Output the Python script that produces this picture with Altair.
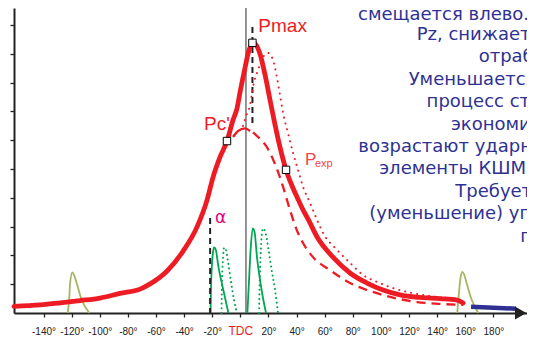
import altair as alt
import pandas as pd

# ---------------- data (crank angle, deg ; pressure in axis-tick units) ----------------
tick_deg = list(range(-140, 181, 20))
ytick_vals = list(range(1, 11))

main_deg = [-161.0, -142.4, -128.2, -114.0, -99.8, -85.6, -71.3, -64.2, -52.1, -40.7, -30.8,
            -23.7, -19.4, -14.4, -9.5, -5.2, -2.3, -0.2, 3.3, 6.2, 9.0, 11.2, 14.0, 17.6, 21.1,
            24.7, 28.2, 32.5, 36.8, 40.3, 44.6, 48.2, 54.6, 65.9, 78.0, 90.1, 101.5, 113.6,
            127.8, 142.0, 154.1, 158.4]
main_p = [0.23, 0.28, 0.35, 0.43, 0.52, 0.68, 0.83, 1.01, 1.46, 2.15, 2.99,
          3.92, 4.72, 5.42, 5.97, 6.70, 7.12, 7.67, 8.51, 9.13, 9.38, 9.31, 8.99, 8.26, 7.40,
          6.53, 5.76, 4.97, 4.41, 4.03, 3.58, 3.26, 2.64, 1.94, 1.39, 1.04, 0.80, 0.63,
          0.54, 0.50, 0.45, 0.35]

blue_deg = [164.1, 196.0]
blue_p = [0.22, 0.15]

arrow_deg = [-5.2, -1.6, 3.3, 6.9]
arrow_p = [6.11, 6.32, 6.41, 6.32]

dash_deg = [9.0, 12.6, 18.3, 22.5, 26.8, 30.4, 35.3, 39.6, 44.6, 51.7, 63.8, 78.0, 90.1,
            106.5, 125.7, 144.2, 158.4]
dash_p = [6.27, 6.11, 5.80, 5.42, 4.90, 4.38, 3.58, 2.95, 2.43, 1.94, 1.49, 1.04, 0.80,
          0.56, 0.38, 0.31, 0.28]

dot_deg = [1.9, 4.1, 6.9, 9.0, 12.6, 16.2, 19.7, 23.3, 26.1, 28.2, 30.4, 33.9, 37.5, 41.0,
           44.6, 49.6, 54.6, 58.8, 68.8, 78.0, 87.3, 97.2, 106.5, 118.6, 135.0, 154.1]
dot_p = [6.49, 6.84, 7.22, 7.85, 8.44, 8.89, 9.03, 8.78, 8.16, 7.57, 6.94, 6.25, 5.56, 4.97,
         4.38, 3.82, 3.23, 2.78, 2.19, 1.74, 1.32, 1.08, 0.90, 0.73, 0.59, 0.49]

g1_deg = [-21.2, -21.0, -20.3, -19.4, -18.7, -17.6, -15.6, -12.1, -8.5]
g1_p = [0.0, 0.6, 1.61, 2.12, 2.28, 2.22, 1.61, 0.80, 0.0]
g2_deg = [-13.4, -13.0, -12.3, -11.6, -10.2, -8.7, -6.6, -4.5, -2.4]
g2_p = [0.0, 1.15, 1.91, 2.27, 2.19, 1.77, 1.08, 0.45, 0.0]
g3_deg = [5.0, 6.2, 7.3, 8.8, 10.1, 11.9, 14.0, 16.1, 18.3]
g3_p = [0.0, 1.15, 2.19, 2.94, 2.81, 1.91, 1.15, 0.52, 0.0]
g4_deg = [13.3, 13.7, 14.4, 16.1, 18.3, 20.1, 22.3, 24.7, 26.8]
g4_p = [0.0, 0.97, 2.01, 2.94, 2.71, 2.19, 1.49, 0.80, 0.0]

olive_l_deg = [-122.8, -121.8, -121.1, -119.5, -118.3, -116.4, -112.8, -107.4]
olive_l_p = [0.0, 0.45, 1.03, 1.41, 1.32, 1.03, 0.45, 0.0]
olive_r_deg = [154.3, 155.0, 155.7, 156.6, 157.9, 159.1, 161.0, 164.6, 169.3]
olive_r_p = [0.0, 0.45, 0.80, 1.22, 1.43, 1.35, 1.03, 0.45, 0.0]

vdash1_deg = [8.6, 8.6]
vdash1_p = [9.93, 6.60]
vdash2_deg = [-21.5, -21.5]
vdash2_p = [3.30, 0.0]
tdc_deg = [4.0, 4.0]
tdc_p = [0.0, 10.6]

marker_deg = [-9.5, 8.6, 32.5]
marker_p = [5.97, 9.38, 4.97]

big_labels = ["Pmax", "Pc'"]
big_deg = [12.8, -25.8]
big_p = [9.77, 6.36]

ru_lines = ["смещается влево.", "Pz, снижается", "отработавших", "Уменьшается",
            "процесс становится", "экономичность", "возрастают ударные", "элементы КШМ.",
            "Требуется", "(уменьшение) угла", "подачи"]
ru_deg = [83.7, 125.4, 169.5, 119.7, 132.5, 149.8, 83.9, 98.8, 152.9, 91.7, 199.1]
ru_p = [10.17, 9.48, 8.72, 7.93, 7.15, 6.37, 5.59, 4.81, 4.03, 3.25, 2.47]

RED = "#ed1c24"
GREEN = "#00a651"
OLIVE = "#a6b660"
NAVY = "#2e3192"
INK = "#222222"


def frame(deg, p):
    return pd.DataFrame({"deg": deg, "p": p, "i": list(range(len(deg)))})


XS = alt.Scale(domain=[-161, 203.9], nice=False, zero=False)
YS = alt.Scale(domain=[0, 10.59], nice=False, zero=False)

x_axis = alt.Axis(
    values=tick_deg,
    labelExpr="datum.value == 0 ? 'TDC' : datum.value + '°'",
    labelColor={"condition": {"test": "datum.value == 0", "value": RED}, "value": INK},
    labelFontSize={"condition": {"test": "datum.value == 0", "value": 12}, "value": 10},
    labelFont="Liberation Sans",
    labelBaseline="alphabetic",
    labelPadding=17,
    labelOverlap=False,
    labelFlush=False,
    tickSize=4,
    tickWidth=1.3,
    tickColor=INK,
    domainColor=INK,
    domainWidth=2,
    grid=False,
)
y_axis = alt.Axis(
    values=ytick_vals,
    labels=False,
    tickSize=4,
    tickWidth=1.3,
    tickColor=INK,
    domainColor=INK,
    domainWidth=2,
    grid=False,
)


def xy():
    return dict(
        x=alt.X("deg:Q", scale=XS, axis=x_axis, title=None),
        y=alt.Y("p:Q", scale=YS, axis=y_axis, title=None),
    )


def line(deg, p, color, width, dash=None, cap="butt", interp="monotone"):
    kw = dict(color=color, strokeWidth=width, strokeCap=cap, interpolate=interp)
    if dash is not None:
        kw["strokeDash"] = dash
    return alt.Chart(frame(deg, p)).mark_line(**kw).encode(order="i:Q", **xy())


layers = [
    line(tdc_deg, tdc_p, "#666666", 1.4, interp="linear"),
    line(olive_l_deg, olive_l_p, OLIVE, 1.8),
    line(olive_r_deg, olive_r_p, OLIVE, 1.8),
    line(g1_deg, g1_p, GREEN, 1.8),
    line(g2_deg, g2_p, GREEN, 2.0, dash=[0.1, 4.5], cap="round"),
    line(g3_deg, g3_p, GREEN, 1.8),
    line(g4_deg, g4_p, GREEN, 2.0, dash=[0.1, 4.5], cap="round"),
    line(vdash1_deg, vdash1_p, INK, 2.0, dash=[6, 4], interp="linear"),
    line(vdash2_deg, vdash2_p, INK, 2.0, dash=[6, 4], interp="linear"),
    line(dot_deg, dot_p, RED, 2.0, dash=[0.1, 6], cap="round"),
    line(dash_deg, dash_p, RED, 2.3, dash=[9, 6]),
    line(arrow_deg, arrow_p, RED, 2.3),
    line(main_deg, main_p, RED, 4.8, cap="round"),
    line(blue_deg, blue_p, NAVY, 4.5),
]

markers = alt.Chart(frame(marker_deg, marker_p)).mark_point(
    shape="square", size=55, filled=True, fill="white", stroke="black", strokeWidth=1, opacity=1
).encode(**xy())

axis_arrow = alt.Chart(frame([199.4], [0.0])).mark_point(
    shape="triangle-right", size=170, filled=True, color=INK, opacity=1
).encode(**xy())

big_text = alt.Chart(
    pd.DataFrame({"deg": big_deg, "p": big_p, "t": big_labels})
).mark_text(
    align="left", baseline="alphabetic", font="Liberation Sans", fontSize=19, color=RED
).encode(text="t:N", **xy())

pexp_p = alt.Chart(pd.DataFrame({"deg": [46.0], "p": [5.14], "t": ["P"]})).mark_text(
    align="left", baseline="alphabetic", font="Liberation Sans", fontSize=17, color="#f0464a"
).encode(text="t:N", **xy())
pexp_sub = alt.Chart(pd.DataFrame({"deg": [53.1], "p": [5.07], "t": ["exp"]})).mark_text(
    align="left", baseline="alphabetic", font="Liberation Sans", fontSize=11, color="#f0464a"
).encode(text="t:N", **xy())

alpha_text = alt.Chart(pd.DataFrame({"deg": [-18.0], "p": [3.13], "t": ["α"]})).mark_text(
    align="left", baseline="alphabetic", font="DejaVu Sans", fontSize=17, color="#e5007d"
).encode(text="t:N", **xy())

ru_text = alt.Chart(pd.DataFrame({"deg": ru_deg, "p": ru_p, "t": ru_lines})).mark_text(
    align="left", baseline="alphabetic", font="DejaVu Sans", fontSize=18, color=NAVY
).encode(text="t:N", **xy())

chart = alt.layer(
    *layers, markers, axis_arrow, big_text, pexp_p, pexp_sub, alpha_text, ru_text
).properties(
    width=513,
    height=305,
    autosize=alt.AutoSizeParams(type="none"),
    padding={"left": 6, "top": 0, "right": 0, "bottom": 23},
).configure_view(stroke=None)

chart.save("out.html", embed_options={"renderer": "svg", "actions": False})
